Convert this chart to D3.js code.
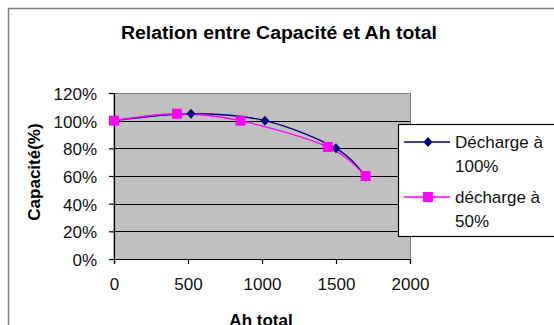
<!DOCTYPE html>
<html><head><meta charset="utf-8">
<script src="https://cdn.jsdelivr.net/npm/d3@7"></script>
<style>body{margin:0;background:#fff}svg{display:block}text{font-family:Arial,"Liberation Sans",sans-serif}</style>
</head><body>
<script>
const xTicks = [0, 500, 1000, 1500, 2000];
const yTicks = [0, 0.2, 0.4, 0.6, 0.8, 1.0, 1.2];
const seriesNames = ["Décharge à 100%", "décharge à 50%"];
const ah100 = [0, 520, 1020, 1500, 1700];
const cap100 = [1.00, 1.05, 1.00, 0.80, 0.595];
const ah50 = [0, 425, 855, 1445, 1700];
const cap50 = [1.00, 1.05, 1.00, 0.81, 0.60];

const W = 554, H = 325;
const FONT = "Arial, 'Liberation Sans', sans-serif";
const svg = d3.select("body").append("svg").attr("width", W).attr("height", H);
svg.append("rect").attr("x", 8.5).attr("y", 8.5).attr("width", 560).attr("height", 330)
  .attr("fill", "#fff").attr("stroke", "#808080").attr("stroke-width", 1.5);

const x = d3.scaleLinear().domain([0, 2000]).range([114, 410]);
const y = d3.scaleLinear().domain([0, 1.2]).range([259, 93]);

svg.append("rect").attr("x", x(0)).attr("y", y(1.2) + 0.5).attr("width", x(2000) - x(0) + 0.5).attr("height", y(0) - y(1.2))
  .attr("fill", "#c0c0c0").attr("stroke", "#808080");

svg.append("g").selectAll("line").data(yTicks.filter(d => d > 0 && d < 1.2)).join("line")
  .attr("x1", x(0)).attr("x2", x(2000)).attr("y1", d => Math.round(y(d)) + 0.5).attr("y2", d => Math.round(y(d)) + 0.5)
  .attr("stroke", "#000").attr("stroke-width", 1.2);

const yAxis = svg.append("g").attr("transform", `translate(${x(0)},0)`)
  .call(d3.axisLeft(y).tickValues(yTicks).tickFormat(d3.format(".0%")).tickSize(5).tickPadding(12));
const xAxis = svg.append("g").attr("transform", `translate(0,${y(0)})`)
  .call(d3.axisBottom(x).tickValues(xTicks).tickFormat(d3.format("d")).tickSize(5).tickPadding(14));
[yAxis, xAxis].forEach(a => {
  a.select(".domain").attr("stroke", "#000").attr("stroke-width", 1.2);
  a.selectAll(".tick line").attr("stroke", "#000").attr("stroke-width", 1.2);
  a.selectAll("text").attr("font-size", 17).attr("fill", "#111").attr("font-family", FONT);
});
yAxis.selectAll("text").attr("dy", "0.38em");

const line = d3.line().x(d => x(d[0])).y(d => y(d[1])).curve(d3.curveCatmullRom.alpha(0));
const d100 = ah100.map((v, i) => [v, cap100[i]]);
const d50 = ah50.map((v, i) => [v, cap50[i]]);

svg.append("path").attr("d", line(d100)).attr("fill", "none").attr("stroke", "#000080").attr("stroke-width", 1.3);
svg.append("path").attr("d", line(d50)).attr("fill", "none").attr("stroke", "#ff00ff").attr("stroke-width", 1.3);

const diamondPath = "M0,-5L4.5,0L0,5L-4.5,0Z";
svg.append("g").selectAll("path").data(d100).join("path")
  .attr("d", diamondPath).attr("transform", d => `translate(${x(d[0])},${y(d[1])})`).attr("fill", "#000080");
svg.append("g").selectAll("rect").data(d50).join("rect")
  .attr("x", d => x(d[0]) - 5).attr("y", d => y(d[1]) - 5).attr("width", 10).attr("height", 10).attr("fill", "#ff00ff");

svg.append("text").attr("x", 279).attr("y", 39).attr("text-anchor", "middle")
  .attr("font-size", 17.5).attr("font-weight", "bold").attr("textLength", 316).attr("lengthAdjust", "spacingAndGlyphs")
  .text("Relation entre Capacité et Ah total");
svg.append("text").attr("transform", "translate(40,172) rotate(-90)").attr("text-anchor", "middle")
  .attr("font-size", 17).attr("font-weight", "bold").text("Capacité(%)");
svg.append("text").attr("x", 261).attr("y", 326).attr("text-anchor", "middle")
  .attr("font-size", 17).attr("font-weight", "bold").text("Ah total");

const lg = svg.append("g");
lg.append("rect").attr("x", 398.5).attr("y", 124.5).attr("width", 170).attr("height", 112)
  .attr("fill", "#fff").attr("stroke", "#000").attr("stroke-width", 1.2);
const items = [
  { name: seriesNames[0], color: "#000080", y: 142, marker: "diamond" },
  { name: seriesNames[1], color: "#ff00ff", y: 197, marker: "square" }
];
items.forEach(it => {
  lg.append("line").attr("x1", 404).attr("x2", 450).attr("y1", it.y).attr("y2", it.y).attr("stroke", it.color).attr("stroke-width", 1.3);
  if (it.marker === "diamond") lg.append("path").attr("d", diamondPath).attr("transform", `translate(428,${it.y})`).attr("fill", it.color);
  else lg.append("rect").attr("x", 423).attr("y", it.y - 5).attr("width", 10).attr("height", 10).attr("fill", it.color);
  const parts = it.name.split(" ");
  const t = lg.append("text").attr("x", 455).attr("y", it.y + 6).attr("font-size", 17).attr("fill", "#111");
  t.append("tspan").attr("x", 455).text(parts.slice(0, 2).join(" "));
  t.append("tspan").attr("x", 455).attr("dy", 23.5).text(parts[2]);
});
</script>
</body></html>
